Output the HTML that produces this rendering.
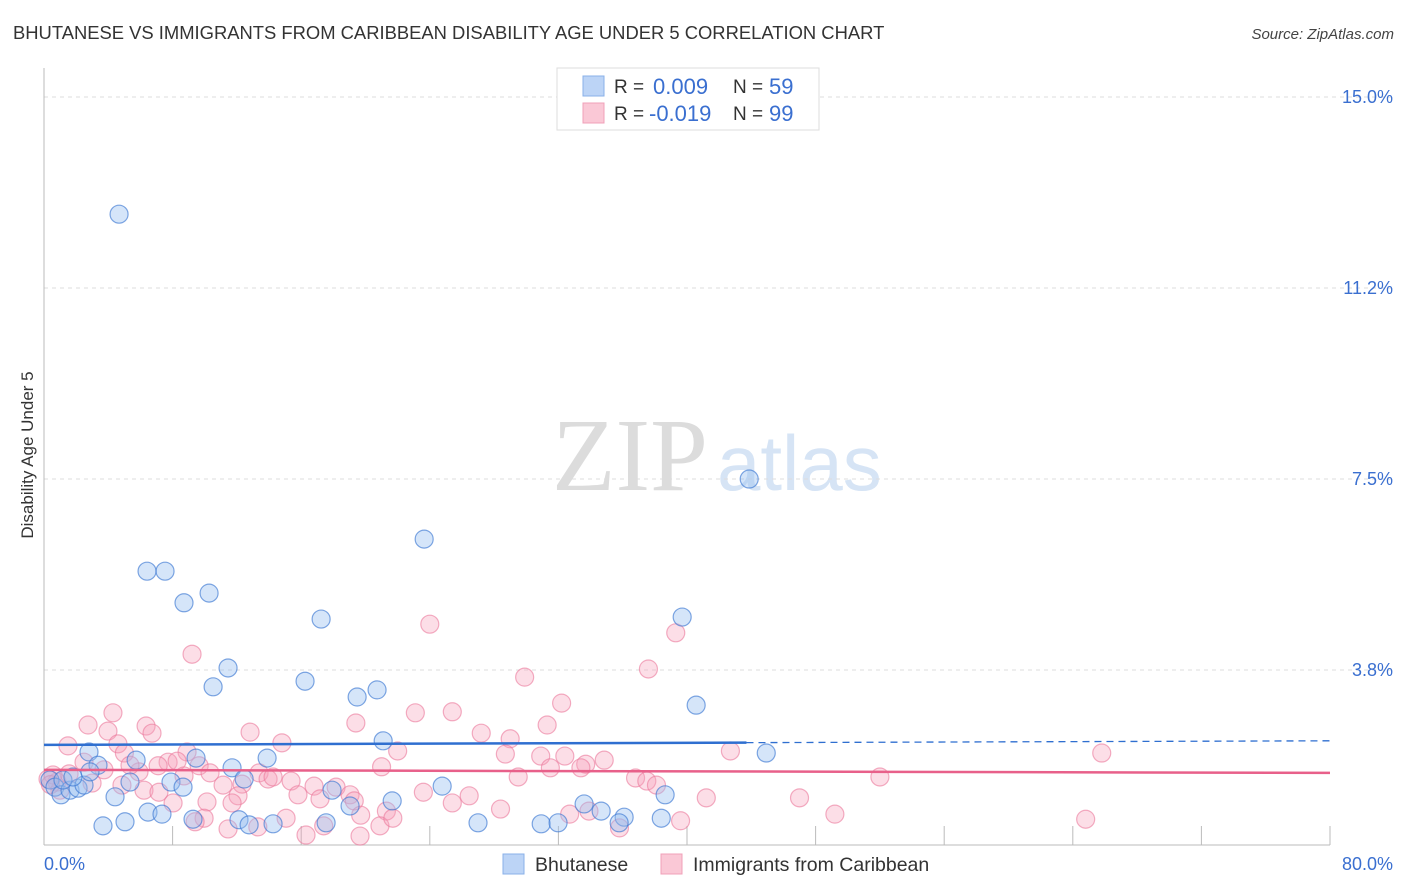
<!DOCTYPE html>
<html><head><meta charset="utf-8"><style>
body{margin:0;background:#fff;}
svg{display:block;font-family:"Liberation Sans",sans-serif;}
</style></head><body>
<svg id="chart" width="1406" height="892" viewBox="0 0 1406 892">
<text x="13" y="39" font-size="18.4" fill="#333">BHUTANESE VS IMMIGRANTS FROM CARIBBEAN DISABILITY AGE UNDER 5 CORRELATION CHART</text>
<text x="1394" y="39" font-size="15" fill="#444" font-style="italic" text-anchor="end">Source: ZipAtlas.com</text>
<text x="552" y="490" font-size="104" fill="#dcdcdc" font-family="Liberation Serif,serif">ZIP</text>
<text x="717" y="490" font-size="78" fill="#d6e4f5">atlas</text>
<g id="grid"></g>
<g id="axes"></g>
<g id="marks"></g>
<text transform="translate(33,455) rotate(-90)" font-size="17" fill="#333" text-anchor="middle">Disability Age Under 5</text>
<g>
<rect x="557" y="68" width="262" height="62" fill="#fff" stroke="#ddd"/>
<rect x="583" y="76" width="21" height="20" fill="#bcd4f6" stroke="#8ab0e8"/>
<rect x="583" y="103" width="21" height="20" fill="#fac8d6" stroke="#f0a0b8"/>
<text x="614" y="93" font-size="19" fill="#333">R = </text><text x="653" y="94" font-size="22" fill="#3a6fd0">0.009</text>
<text x="733" y="93" font-size="19" fill="#333">N = </text><text x="769" y="94" font-size="22" fill="#3a6fd0">59</text>
<text x="614" y="120" font-size="19" fill="#333">R = </text><text x="649" y="121" font-size="22" fill="#3a6fd0">-0.019</text>
<text x="733" y="120" font-size="19" fill="#333">N = </text><text x="769" y="121" font-size="22" fill="#3a6fd0">99</text>
</g>
<g>
<rect x="503" y="854" width="21" height="20" fill="#bcd4f6" stroke="#8ab0e8"/>
<text x="535" y="871" font-size="19.5" fill="#333">Bhutanese</text>
<rect x="661" y="854" width="21" height="20" fill="#fac8d6" stroke="#f0a0b8"/>
<text x="693" y="871" font-size="19.5" fill="#333">Immigrants from Caribbean</text>
</g>
</svg>
<script>
const yTicks=[3.75,7.5,11.25,15];
const yTickLabels=["3.8%","7.5%","11.2%","15.0%"];
const xTickValues=[0,8,16,24,32,40,48,56,64,72,80];
const blueX=[4.67,6.41,7.53,8.71,10.27,17.24,23.65,43.87,39.7,11.45,10.52,16.24,20.72,19.48,40.57,44.93,21.1,13.88,9.46,5.73,2.8,3.36,11.7,12.45,5.35,7.9,8.65,17.92,24.77,21.66,19.04,4.42,6.47,7.34,9.27,12.13,12.76,14.25,17.55,3.67,5.04,27.0,30.93,31.98,33.6,34.66,36.09,35.78,38.4,38.64,0.37,0.68,1.06,1.62,2.12,2.49,1.18,2.86,1.8];
const blueY=[12.7,5.69,5.69,5.07,5.26,4.75,6.32,7.5,4.79,3.79,3.42,3.53,3.36,3.22,3.06,2.12,2.36,2.02,2.02,1.98,2.14,1.88,1.83,1.61,1.55,1.55,1.45,1.39,1.47,1.18,1.08,1.26,0.96,0.92,0.82,0.81,0.71,0.73,0.75,0.69,0.77,0.75,0.73,0.75,1.12,0.98,0.86,0.75,0.84,1.3,1.59,1.45,1.3,1.39,1.43,1.49,1.59,1.75,1.65];
const pinkX=[24.0,39.3,37.6,9.21,29.9,32.2,23.1,25.4,31.3,19.4,4.29,2.74,6.35,6.72,3.98,12.82,14.8,1.49,4.6,5.0,27.2,29.0,28.7,22.0,42.7,65.8,30.9,32.4,34.85,33.7,33.4,31.5,21.0,8.9,7.72,8.28,7.1,9.65,5.91,5.35,2.49,3.73,10.33,8.71,13.38,13.94,14.25,15.37,12.32,11.14,16.8,18.17,29.5,36.8,37.5,38.1,52.0,6.22,7.15,4.85,2.99,0.81,1.56,0.25,15.8,17.17,19.04,19.3,12.07,8.03,10.14,23.6,26.45,25.4,28.4,11.7,41.2,47.0,21.3,19.7,32.7,33.9,39.6,49.2,64.8,9.96,9.4,11.45,13.3,15.06,16.3,17.4,19.66,20.9,21.7,35.8,0.56,0.99,0.4];
const pinkY=[4.65,4.48,3.77,4.06,3.61,3.1,2.91,2.93,2.67,2.71,2.91,2.67,2.65,2.51,2.55,2.53,2.32,2.26,2.3,2.12,2.51,2.4,2.1,2.16,2.16,2.12,2.06,2.06,1.98,1.9,1.83,1.83,1.85,2.14,1.94,1.96,1.87,1.87,1.75,1.88,1.94,1.79,1.73,1.67,1.73,1.61,1.65,1.57,1.51,1.49,1.47,1.45,1.65,1.63,1.57,1.49,1.65,1.39,1.35,1.49,1.53,1.55,1.71,1.61,1.3,1.22,1.3,1.18,1.28,1.14,1.16,1.35,1.28,1.14,1.02,1.14,1.24,1.24,0.98,0.9,0.92,0.98,0.79,0.92,0.82,0.84,0.77,0.63,0.67,0.84,0.51,0.69,0.49,0.69,0.84,0.65,1.69,1.39,1.5];
const blueTrend=[2.28,2.36];
const pinkTrend=[1.79,1.73];
const xMax=80;

const NS="http://www.w3.org/2000/svg";
const X=v=>44+v*(1330-44)/80;
const Y=v=>861-v*50.93;
function mk(parent,tag,attrs){const e=document.createElementNS(NS,tag);for(const k in attrs)e.setAttribute(k,attrs[k]);document.getElementById(parent).appendChild(e);return e;}

yTicks.forEach((t,i)=>{
  const g=mk('grid','line',{x1:44,x2:1393,y1:Y(t),y2:Y(t),stroke:'#ddd','stroke-dasharray':'4,4'});
  
  
  const l=mk('axes','text',{x:1393,y:Y(t)+6,'font-size':18,fill:'#3a6fd0','text-anchor':'end'});
  
  
  l.textContent=yTickLabels[i];
});
const ax=mk('axes','line',{x1:44,x2:44,y1:68,y2:845,stroke:'#bbb'});


const bx=mk('axes','line',{x1:44,x2:1330,y1:845,y2:845,stroke:'#bbb'});


xTickValues.forEach(v=>{
  const t=mk('axes','line',{x1:X(v),x2:X(v),y1:826,y2:845,stroke:'#bbb'});
  
  
});
const x0=mk('axes','text',{x:44,y:870,'font-size':18,fill:'#3a6fd0'});


x0.textContent='0.0%';
const x1=mk('axes','text',{x:1393,y:870,'font-size':18,fill:'#3a6fd0','text-anchor':'end'});


x1.textContent='80.0%';

pinkX.forEach((v,i)=>{
  const c=mk('marks','circle',{cx:X(v),cy:Y(pinkY[i]),r:9,fill:'rgba(245,160,185,0.35)',stroke:'rgba(235,120,155,0.6)','stroke-width':1.2});
  
  
});
blueX.forEach((v,i)=>{
  const c=mk('marks','circle',{cx:X(v),cy:Y(blueY[i]),r:9,fill:'rgba(150,190,240,0.4)',stroke:'rgba(60,120,210,0.65)','stroke-width':1.2});
  
  
});
const bSplit=43.7;
const bAt=v=>blueTrend[0]+(blueTrend[1]-blueTrend[0])*v/xMax;
const tb=mk('marks','line',{x1:X(0),y1:Y(bAt(0)),x2:X(bSplit),y2:Y(bAt(bSplit)),stroke:'#2f6fd0','stroke-width':2.5});


const tbd=mk('marks','line',{x1:X(bSplit),y1:Y(bAt(bSplit)),x2:X(xMax),y2:Y(bAt(xMax)),stroke:'#2f6fd0','stroke-width':1.3,'stroke-dasharray':'7,5'});


const tp=mk('marks','line',{x1:X(0),y1:Y(pinkTrend[0]),x2:X(xMax),y2:Y(pinkTrend[1]),stroke:'#e8608a','stroke-width':2.5});


</script>
</body></html>
